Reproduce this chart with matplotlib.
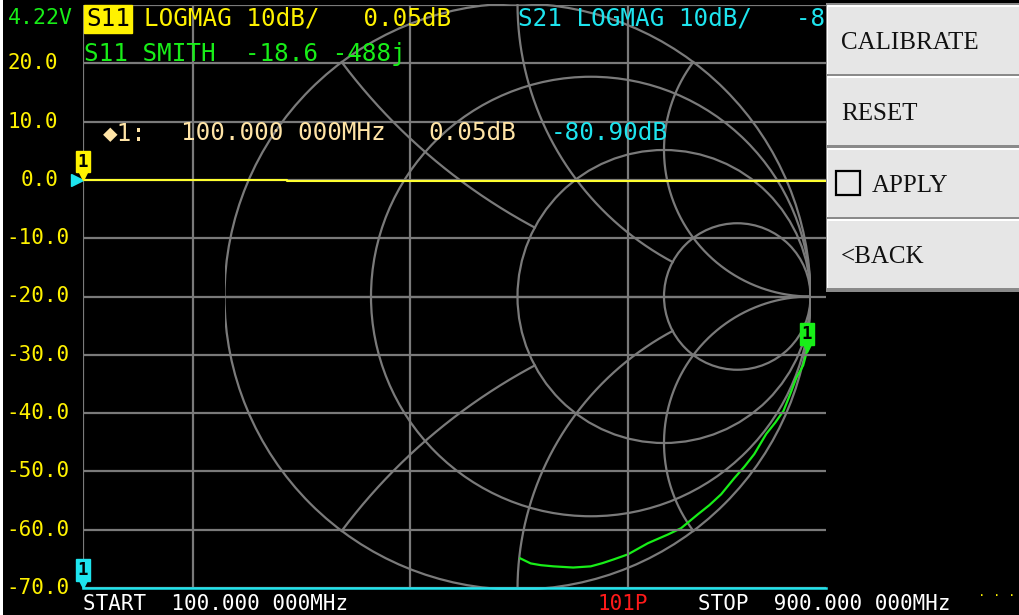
import numpy as np
import matplotlib
matplotlib.use('Agg')
import matplotlib.pyplot as plt
from matplotlib.patches import Rectangle, Circle
from matplotlib.transforms import offset_copy

W, H = 1019, 615
MONO = 'DejaVu Sans Mono'

## ------------  Data  ---------------
db_levels = [30, 20, 10, 0, -10, -20, -30, -40, -50, -60, -70]
freq_grid = [218.4, 452.1, 686.8]   # MHz, vertical grid lines
start_mhz, stop_mhz = 100.0, 900.0

s11_freq = [100, 320, 900]
s11_db = [0.05, -0.25, -0.25]

s21_freq = [100, 300, 500, 700, 900]
s21_db = [-80.90, -83.4, -79.6, -81.8, -80.3]

# S11 on smith chart, reflection coefficient
s11_re = [0.987, 0.975, 0.952, 0.930, 0.908, 0.880, 0.849, 0.808, 0.775, 0.740,
          0.695, 0.655, 0.616, 0.558, 0.514, 0.445, 0.377, 0.329, 0.290, 0.250,
          0.190, 0.123, 0.080, 0.045, 0.010]
s11_im = [-0.19, -0.235, -0.277, -0.335, -0.390, -0.430, -0.469, -0.538, -0.580, -0.620,
          -0.675, -0.712, -0.743, -0.791, -0.812, -0.842, -0.880, -0.897, -0.910, -0.921,
          -0.925, -0.921, -0.917, -0.911, -0.894]

res_circles = [1 / 3, 1, 3]
react_arcs = [(0.5, 1), (1, 3), (2, None)]   # reactance, drawn up to this resistance

header_s11 = 'LOGMAG 10dB/   0.05dB'
header_s21 = 'S21 LOGMAG 10dB/   -80.90dB'
smith_info = 'S11 SMITH  -18.6 -488j'
menu_items = ['CALIBRATE', 'RESET', 'APPLY', '<BACK']

GRID = '#7a7a7a'
YEL = '#fff200'
CYAN = '#1ee4ee'
GREEN = '#18ee18'
PALE = '#ffe4a6'

## ------------  Figure  ---------------
fig = plt.figure(figsize=(W / 100, H / 100), dpi=100, facecolor='black')

def frac(x0, y0, x1, y1):
    return [x0 / W, 1 - y1 / H, (x1 - x0) / W, (y1 - y0) / H]

# smith chart (under)
sm = fig.add_axes(frac(224.5, 3.5, 810.5, 589.5), zorder=1)
sm.set_xlim(-1, 1)
sm.set_ylim(-1, 1)
sm.set_facecolor('none')
sm.axis('off')
lw = 1.6
sm.add_patch(Circle((0, 0), 1, fill=False, ec=GRID, lw=lw))
sm.plot([-1, 1], [0, 0], color=GRID, lw=lw)
for r in res_circles:
    sm.add_patch(Circle((r / (1 + r), 0), 1 / (1 + r), fill=False, ec=GRID, lw=lw))
for x, rmax in react_arcs:
    if rmax is None:
        rr = np.tan(np.linspace(0, np.pi / 2 - 1e-4, 600))
    else:
        rr = np.linspace(0, rmax, 400)
    for sgn in (1, -1):
        z = rr + 1j * sgn * x
        g = (z - 1) / (z + 1)
        sm.plot(g.real, g.imag, color=GRID, lw=lw)
sm.plot(s11_re, s11_im, color=GREEN, lw=1.6, zorder=4)

# logmag (over, transparent)
ax = fig.add_axes(frac(83, 5, 826, 588), zorder=2)
ax.set_facecolor('none')
ax.set_xlim(start_mhz, stop_mhz)
ax.set_ylim(-70, 30)
ax.axis('off')
for v in db_levels:
    ax.axhline(v, color=GRID, lw=lw, zorder=1)
for f in [start_mhz] + freq_grid:
    ax.axvline(f, color=GRID, lw=lw, zorder=1)
# scale labels: negative values reach closer to the grid
for v in db_levels[1:]:
    shift = -13 if v < 0 else -25
    ax.text(start_mhz, v, '%.1f' % v, ha='right', va='center', family=MONO,
            fontsize=15, color=YEL, clip_on=False,
            transform=offset_copy(ax.transData, fig=fig, x=shift, units='dots'))

ax.plot(s11_freq, s11_db, color='#ffff30', lw=1.5, drawstyle='steps-post', zorder=3, clip_on=False)
ax.plot(s21_freq, np.clip(s21_db, -70, 30), color=CYAN, lw=1.8, zorder=3, clip_on=False)

def draw_marker(a, x, y, color):
    a.plot([x], [y], marker='v', ms=7.5, color=color, clip_on=False, zorder=6,
           transform=offset_copy(a.transData, fig=fig, y=3.5, units='points'))
    a.annotate('1', xy=(x, y), xytext=(0, 6.5), textcoords='offset points',
               ha='center', va='bottom', fontsize=12.5, fontweight='bold', family=MONO,
               color='black', annotation_clip=False, zorder=7,
               bbox=dict(boxstyle='square,pad=0.1', fc=color, ec=color))

draw_marker(ax, s11_freq[0], s11_db[0], YEL)
draw_marker(ax, s21_freq[0], max(s21_db[0], -70), CYAN)
draw_marker(sm, s11_re[0], s11_im[0], GREEN)
# reference position arrow
ax.plot([start_mhz], [0], marker='>', ms=9, color=CYAN, clip_on=False, zorder=5,
        transform=offset_copy(ax.transData, fig=fig, x=-6, units='dots'))

## ------------  Texts / menu  ---------------
ui = fig.add_axes([0, 0, 1, 1], zorder=3)
ui.set_xlim(0, W)
ui.set_ylim(H, 0)
ui.set_facecolor('none')
ui.axis('off')

ui.add_patch(Rectangle((0, 0), 3, H, fc='white', ec='none'))

big = dict(family=MONO, fontsize=17.5, va='center', ha='left', zorder=2)
ui.text(8, 18, '4.22V', color=GREEN, fontsize=15.5, family=MONO, va='center')
ui.text(86, 19, 'S11', color='black', bbox=dict(boxstyle='square,pad=0.08', fc=YEL, ec=YEL), **big)
ui.text(144, 19, header_s11, color=YEL, **big)
ui.text(518, 19, header_s21, color=CYAN, **big)
ui.text(84, 54, smith_info, color=GREEN, **big)

ui.text(103, 133, '◆1:', color=PALE, **big)
ui.text(181, 133, '100.000 000MHz', color=PALE, **big)
ui.text(428, 133, '0.05dB', color=PALE, **big)
ui.text(551, 133, '-80.90dB', color=CYAN, **big)

small = dict(family=MONO, fontsize=15, va='center', ha='left')
ui.text(83, 604, 'START  100.000 000MHz', color='white', **small)
ui.text(598, 604, '101P', color='#ff1a1a', **small)
ui.text(698, 604, 'STOP  900.000 000MHz', color='white', **small)
ui.text(978, 592, '. . .', color=YEL, family=MONO, fontsize=9, va='center')

# menu
ui.add_patch(Rectangle((826, 3), W - 826, 289, fc='#8a8a8a', ec='none', zorder=5))
tops = [5, 76, 148, 219]
for i, (t, label) in enumerate(zip(tops, menu_items)):
    ui.add_patch(Rectangle((827, t), W - 827, 69, fc='white', ec='none', zorder=5))
    ui.add_patch(Rectangle((828, t + 1.5), W - 828, 67, fc='#e6e6e6', ec='none', zorder=5))
    tx = 872 if label == 'APPLY' else 841
    ui.text(tx, t + 38, label, family='Liberation Serif', fontsize=18, color='#111111',
            va='center', ha='left', zorder=6)
ui.add_patch(Rectangle((836.5, 170.5), 24, 24, fill=False, ec='black', lw=1.6, zorder=6))

fig.savefig('out.png', dpi=100, facecolor='black')
